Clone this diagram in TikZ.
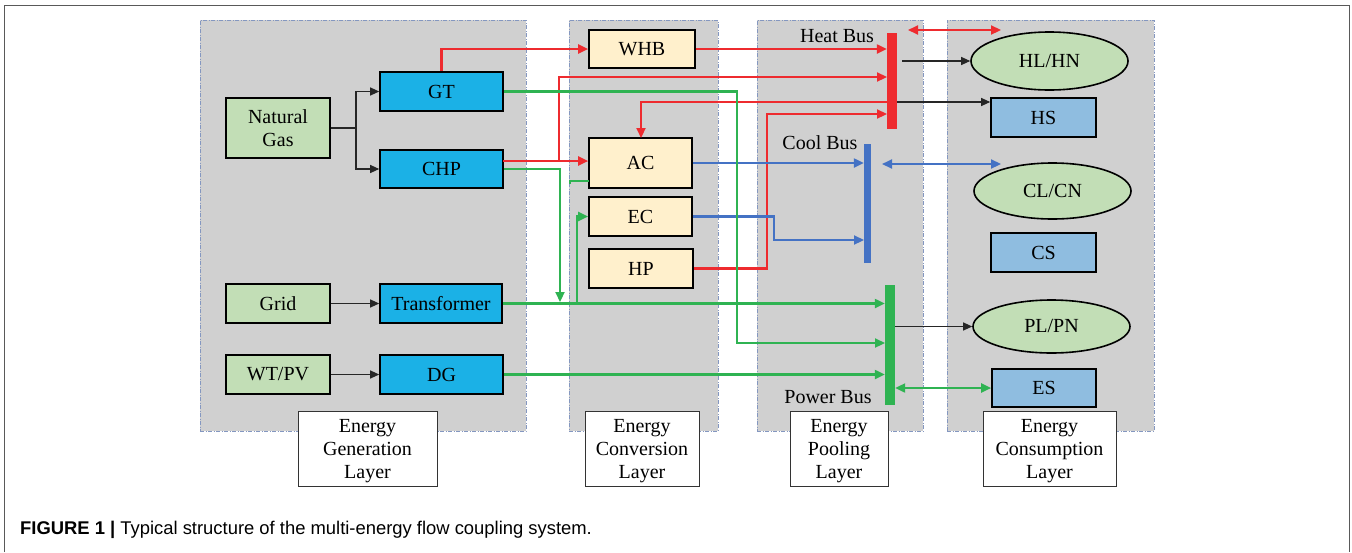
\documentclass[tikz,border=0pt]{standalone}
\usepackage{fontspec}
\setmainfont{Liberation Serif}
\newfontfamily\capfont{Liberation Sans}
\usetikzlibrary{arrows.meta,shapes.geometric}
\definecolor{panelgray}{HTML}{D0D0D0}
\definecolor{panelline}{HTML}{8497C0}
\definecolor{srcgreen}{HTML}{C2DEB6}
\definecolor{genblue}{HTML}{1BB1E6}
\definecolor{convyel}{HTML}{FFF0CC}
\definecolor{storeblue}{HTML}{8FBDE0}
\definecolor{heatred}{HTML}{EE2B2F}
\definecolor{coolblue}{HTML}{4472C4}
\definecolor{powgreen}{HTML}{2FB352}
\begin{document}
\begin{tikzpicture}[x=1pt,y=-1pt,
  txt/.style={font=\fontsize{20}{23.3}\selectfont},
  panel/.style={draw=panelline, fill=panelgray, line width=0.9pt,
    dash pattern=on 4pt off 1.5pt on 1pt off 1.5pt, inner sep=0pt},
  box/.style={draw=black, line width=1.6pt, inner sep=0pt, align=center, txt},
  oval/.style={ellipse, draw=black, line width=1.6pt, inner sep=0pt, fill=srcgreen, txt},
  layerlabel/.style={draw=black!80, line width=0.8pt, fill=white, inner sep=0pt, minimum height=75pt},
  layertext/.style={inner sep=0pt, align=center, font=\fontsize{20}{23.3}\selectfont},
  bus/.style={inner sep=0pt},
  hline/.style={draw=heatred, line width=2.2pt},
  cline/.style={draw=coolblue, line width=2.2pt},
  pline/.style={draw=powgreen, line width=2.2pt},
  ctip/.style={-{Triangle[length=10pt,width=9pt]}},
  dtip/.style={{Triangle[length=10pt,width=9pt]}-{Triangle[length=10pt,width=9pt]}},
  bline/.style={draw=black!85, line width=1.1pt, -{Triangle[length=9pt,width=8pt]}}
]
\useasboundingbox (0,0) rectangle (1352,552);
\fill[white] (0,0) rectangle (1352,552);
% outer frame
\draw[black!65, line width=1pt] (4,552) -- (4,5) -- (1349,5) -- (1349,552);

% panels
\node[panel, minimum width=326pt, minimum height=411pt] (pgen) at (363,225.5) {};
\node[panel, minimum width=149pt, minimum height=411pt] (pconv) at (643.5,225.5) {};
\node[panel, minimum width=166pt, minimum height=411pt] (ppool) at (840,225.5) {};
\node[panel, minimum width=207pt, minimum height=411pt] (pcons) at (1050.5,225.5) {};

% layer labels
\node[layerlabel, minimum width=139pt] (lgen) at (367.5,448.5) {};
\node[layerlabel, minimum width=114pt] (lconv) at (642,448.5) {};
\node[layerlabel, minimum width=98pt] (lpool) at (839,448.5) {};
\node[layerlabel, minimum width=133pt] (lcons) at (1049.5,448.5) {};
\node[layertext] (tgen) at (lgen.center) [yshift=-2.5pt] {Energy\\Generation\\Layer};
\node[layertext] (tconv) at (lconv.center) [yshift=-2.5pt] {Energy\\Conversion\\Layer};
\node[layertext] (tpool) at (lpool.center) [yshift=-2.5pt] {Energy\\Pooling\\Layer};
\node[layertext] (tcons) at (lcons.center) [yshift=-2.5pt] {Energy\\Consumption\\Layer};

% generation layer
\node[box, fill=srcgreen, minimum width=104pt, minimum height=60pt] (NG) at (278,128) {Natural\\Gas};
\node[box, fill=genblue, minimum width=123pt, minimum height=39pt] (GT) at (441.5,91.5) {GT};
\node[box, fill=genblue, minimum width=123pt, minimum height=38pt] (CHP) at (441.5,169) {CHP};
\node[box, fill=srcgreen, minimum width=104pt, minimum height=39pt] (Grid) at (278,303.5) {Grid};
\node[box, fill=genblue, minimum width=122pt, minimum height=39pt] (TR) at (441,303.5) {Transformer};
\node[box, fill=srcgreen, minimum width=104pt, minimum height=39pt] (WT) at (278,374.5) {WT/PV};
\node[box, fill=genblue, minimum width=123pt, minimum height=39pt] (DG) at (441.5,374.5) {DG};

% conversion layer
\node[box, fill=convyel, minimum width=106pt, minimum height=38pt] (WHB) at (642,49) {WHB};
\node[box, fill=convyel, minimum width=103pt, minimum height=50pt] (AC) at (640.5,163) {AC};
\node[box, fill=convyel, minimum width=103pt, minimum height=39pt] (EC) at (640.5,216.5) {EC};
\node[box, fill=convyel, minimum width=104pt, minimum height=39pt] (HP) at (641,268.5) {HP};

% buses
\node[bus, fill=heatred, minimum width=10pt, minimum height=96pt] (hb) at (892,81) {};
\node[bus, fill=coolblue, minimum width=7pt, minimum height=119pt] (cb) at (867.5,203.5) {};
\node[bus, fill=powgreen, minimum width=10pt, minimum height=120pt] (pb) at (890,345) {};
\node[txt] (hbl) at (837,36) {Heat Bus};
\node[txt] (cbl) at (820,143) {Cool Bus};
\node[txt] (pbl) at (828,397) {Power Bus};

% consumption layer
\node[oval, minimum width=157pt, minimum height=58pt] (HL) at (1049.5,61) {HL/HN};
\node[box, fill=storeblue, minimum width=105pt, minimum height=39pt] (HS) at (1043.5,117.5) {HS};
\node[oval, minimum width=157pt, minimum height=56pt] (CL) at (1052.5,191) {CL/CN};
\node[box, fill=storeblue, minimum width=105pt, minimum height=39pt] (CS) at (1043.5,252.5) {CS};
\node[oval, minimum width=157pt, minimum height=53pt] (PL) at (1051.5,326.5) {PL/PN};
\node[box, fill=storeblue, minimum width=104pt, minimum height=38pt] (ES) at (1044,388) {ES};

% bend coordinates
\coordinate (ngj) at (356,128);
\coordinate (chpR) at (503,161);
\coordinate (xr1) at (559,0);
\coordinate (hbin1) at (887,77);
\coordinate (hbout) at (887,102);
\coordinate (acin) at (641,138);
\coordinate (xhp) at (767,0);
\coordinate (hbin2) at (887,114);
\coordinate (hlo) at (902,61);
\coordinate (hso) at (897,102);
\coordinate (hdA) at (908,30);
\coordinate (hdB) at (1001,30);
\coordinate (xec) at (774,0);
\coordinate (cbin2) at (864,240);
\coordinate (cdA) at (882,164);
\coordinate (cdB) at (1001,164);
\coordinate (xchp) at (560,0);
\coordinate (chpdown) at (560,302);
\coordinate (acg) at (589,181);
\coordinate (acg2) at (570,181);
\coordinate (acg3) at (570,184);
\coordinate (trj) at (577,304);
\coordinate (xgt) at (737,0);
\coordinate (pbin2) at (885,343);

% black
\draw[bline] (NG.east) -- (ngj) |- (GT.west);
\draw[bline] (ngj) |- (CHP.west);
\draw[bline] (Grid.east) -- (TR.west);
\draw[bline] (WT.east) -- (DG.west);

% heat (red)
\draw[hline, ctip] (GT.north) |- (WHB.west);
\draw[hline, ctip] (WHB.east) -- (WHB.east -| hb.west);
\draw[hline, ctip] (chpR) -- (chpR -| AC.west);
\draw[hline, ctip] (chpR -| xr1) -- (hbin1 -| xr1) -- (hbin1);
\draw[hline, ctip] (hbout) -| (acin);
\draw[hline, ctip] (HP.east) -- (HP.east -| xhp) -- (hbin2 -| xhp) -- (hbin2);
\draw[hline, dtip] (hdA) -- (hdB);
\draw[bline] (hlo) -- (hlo -| HL.west);
\draw[bline] (hso) -- (hso -| HS.west);

% cool (blue)
\draw[cline, ctip] (AC.east) -- (AC.east -| cb.west);
\draw[cline, ctip] (EC.east) -- (EC.east -| xec) -- (cbin2 -| xec) -- (cbin2);
\draw[cline, dtip] (cdA) -- (cdB);

% power (green)
\draw[pline, ctip] (CHP.east) -- (CHP.east -| xchp) -- (chpdown);
\draw[pline] (acg) -- (acg2) -- (acg3);
\draw[pline, ctip] (TR.east) -- (TR.east -| pb.west);
\draw[pline, ctip] (trj) |- (EC.west);
\draw[pline, ctip] (GT.east) -- (GT.east -| xgt) -- (pbin2 -| xgt) -- (pbin2);
\draw[pline, ctip] (DG.east) -- (DG.east -| pb.west);
\draw[bline] (pb.east |- PL.west) -- (PL.west);
\draw[pline, dtip] (pb.east |- ES.west) -- (ES.west);

% caption
\node[anchor=west, inner sep=0pt, font=\capfont\fontsize{18.4}{21}\selectfont] (cap) at (20,530)
  {\textbf{FIGURE 1 |} Typical structure of the multi-energy flow coupling system.};
\end{tikzpicture}
\end{document}
